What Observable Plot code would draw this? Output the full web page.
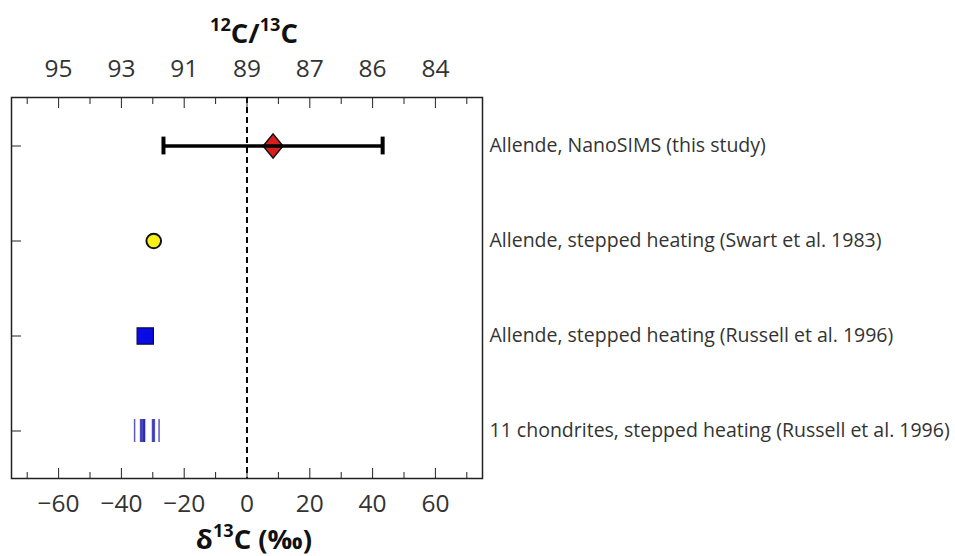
<!DOCTYPE html>
<html>
<head>
<meta charset="utf-8">
<script src="https://cdn.jsdelivr.net/npm/d3@7"></script>
<script src="https://cdn.jsdelivr.net/npm/@observablehq/plot@0.6"></script>
<style>
  html, body { margin: 0; padding: 0; background: #fff; }
</style>
</head>
<body>
<div id="chart"></div>
<script>
// ---- data ----
const rows = [
  "Allende, NanoSIMS (this study)",
  "Allende, stepped heating (Swart et al. 1983)",
  "Allende, stepped heating (Russell et al. 1996)",
  "11 chondrites, stepped heating (Russell et al. 1996)"
];
const nanoValue = 8.3;
const nanoLow = -26.6;
const nanoHigh = 43.2;
const swartValue = -29.7;
const russellValue = -32.4;
const chondriteValues = [-35.8, -33.9, -33.6, -33.3, -32.9, -32.6, -32.8, -30.1, -29.8, -29.5, -28.0];
const bottomTicks = [-60, -40, -20, 0, 20, 40, 60];
const minorTicks = [-70, -50, -30, -10, 10, 30, 50, 70];
const topTickLabels = ["95", "93", "91", "89", "87", "86", "84"];
// title parts: [text, isSuperscript]
const xTitleParts = [["δ", false], ["13", true], ["C (‰)", false]];
const topTitleParts = [["12", true], ["C/", false], ["13", true], ["C", false]];

// ---- build tables ----
const nano = [{row: rows[0], v: nanoValue, lo: nanoLow, hi: nanoHigh}];
const caps = [{row: rows[0], v: nanoLow}, {row: rows[0], v: nanoHigh}];
const swart = [{row: rows[1], v: swartValue}];
const russell = [{row: rows[2], v: russellValue}];
const chondrites = chondriteValues.map(v => ({row: rows[3], v}));
const topLabelOf = new Map(bottomTicks.map((t, i) => [t, topTickLabels[i]]));
const joinParts = parts => parts.map(p => p[0]).join("");

const diamond = {
  draw(context, size) {
    const w = Math.sqrt(size) * 0.56, h = w * 1.22;
    context.moveTo(0, -h);
    context.lineTo(w, 0);
    context.lineTo(0, h);
    context.lineTo(-w, 0);
    context.closePath();
  }
};

const ink = "#222";
const textInk = "#333";
const tickFont = 24.5;
const titleFont = 27.5;

const chart = Plot.plot({
  width: 955,
  height: 556,
  marginLeft: 11,
  marginRight: 473,
  marginTop: 97,
  marginBottom: 78,
  style: {fontFamily: "'Open Sans', sans-serif", background: "#fff"},
  x: {domain: [-75, 75], label: null},
  y: {type: "band", domain: rows, padding: 0, label: null},
  marks: [
    Plot.frame({stroke: ink, strokeWidth: 1.5}),
    Plot.ruleX([0], {stroke: "#000", strokeWidth: 2, strokeDasharray: "6,4"}),
    // minor / major ticks (inward)
    Plot.axisX(minorTicks, {anchor: "bottom", tickSize: -6, tickFormat: () => "", stroke: ink, label: null}),
    Plot.axisX(bottomTicks, {anchor: "bottom", tickSize: -10, tickFormat: () => "", stroke: ink, label: null}),
    Plot.axisX(minorTicks, {anchor: "top", tickSize: -6, tickFormat: () => "", stroke: ink, label: null}),
    Plot.axisX(bottomTicks, {anchor: "top", tickSize: -10, tickFormat: () => "", stroke: ink, label: null}),
    // tick labels
    Plot.axisX(bottomTicks, {anchor: "bottom", tickSize: 0, tickPadding: 16, fontSize: tickFont, fill: textInk, label: null}),
    Plot.axisX(bottomTicks, {anchor: "top", tickSize: 0, tickPadding: 21, fontSize: tickFont, fill: textInk, label: null,
      tickFormat: d => topLabelOf.get(d)}),
    Plot.axisY({anchor: "left", tickSize: -10, tickFormat: () => "", stroke: ink, label: null}),
    Plot.axisY({anchor: "right", tickSize: 0, tickPadding: 7, fontSize: 19.5, fill: textInk, label: null}),
    // data
    Plot.tickX(chondrites, {x: "v", y: "row", insetTop: 36, insetBottom: 36, stroke: "#1414a8", strokeWidth: 1.5, strokeOpacity: 0.7}),
    Plot.dot(russell, {x: "v", y: "row", symbol: "square", r: 9.2, fill: "#0a0ae6", stroke: "#0a0a40", strokeWidth: 1.2}),
    Plot.dot(swart, {x: "v", y: "row", r: 7.3, fill: "#f7f01a", stroke: "#111", strokeWidth: 2}),
    Plot.dot(nano, {x: "v", y: "row", symbol: diamond, r: 10, fill: "#d81e1e", stroke: "#111", strokeWidth: 1.5}),
    Plot.ruleY(nano, {x1: "lo", x2: "hi", y: "row", stroke: "#000", strokeWidth: 3.5}),
    Plot.tickX(caps, {x: "v", y: "row", insetTop: 38.6, insetBottom: 38.6, stroke: "#000", strokeWidth: 4}),
    // titles
    Plot.text([joinParts(topTitleParts)], {frameAnchor: "top", dx: 7, dy: -74, fontSize: titleFont, fontWeight: "bold", fill: "#111"}),
    Plot.text([joinParts(xTitleParts)], {frameAnchor: "bottom", dx: 7, dy: 70, fontSize: titleFont, fontWeight: "bold", fill: "#111"})
  ]
});

// rebuild the titles with real superscripts
function superscriptify(svg, parts) {
  const full = joinParts(parts);
  svg.querySelectorAll("text").forEach(t => {
    if (t.textContent !== full) return;
    while (t.firstChild) t.removeChild(t.firstChild);
    let shifted = false;
    const rise = titleFont * 0.42;
    for (const [str, sup] of parts) {
      const ts = document.createElementNS("http://www.w3.org/2000/svg", "tspan");
      ts.textContent = str;
      if (sup && !shifted) { ts.setAttribute("dy", -rise); shifted = true; }
      else if (!sup && shifted) { ts.setAttribute("dy", rise); shifted = false; }
      if (sup) ts.setAttribute("font-size", titleFont * 0.66);
      t.appendChild(ts);
    }
  });
}
superscriptify(chart, xTitleParts);
superscriptify(chart, topTitleParts);

document.getElementById("chart").appendChild(chart);
</script>
</body>
</html>
